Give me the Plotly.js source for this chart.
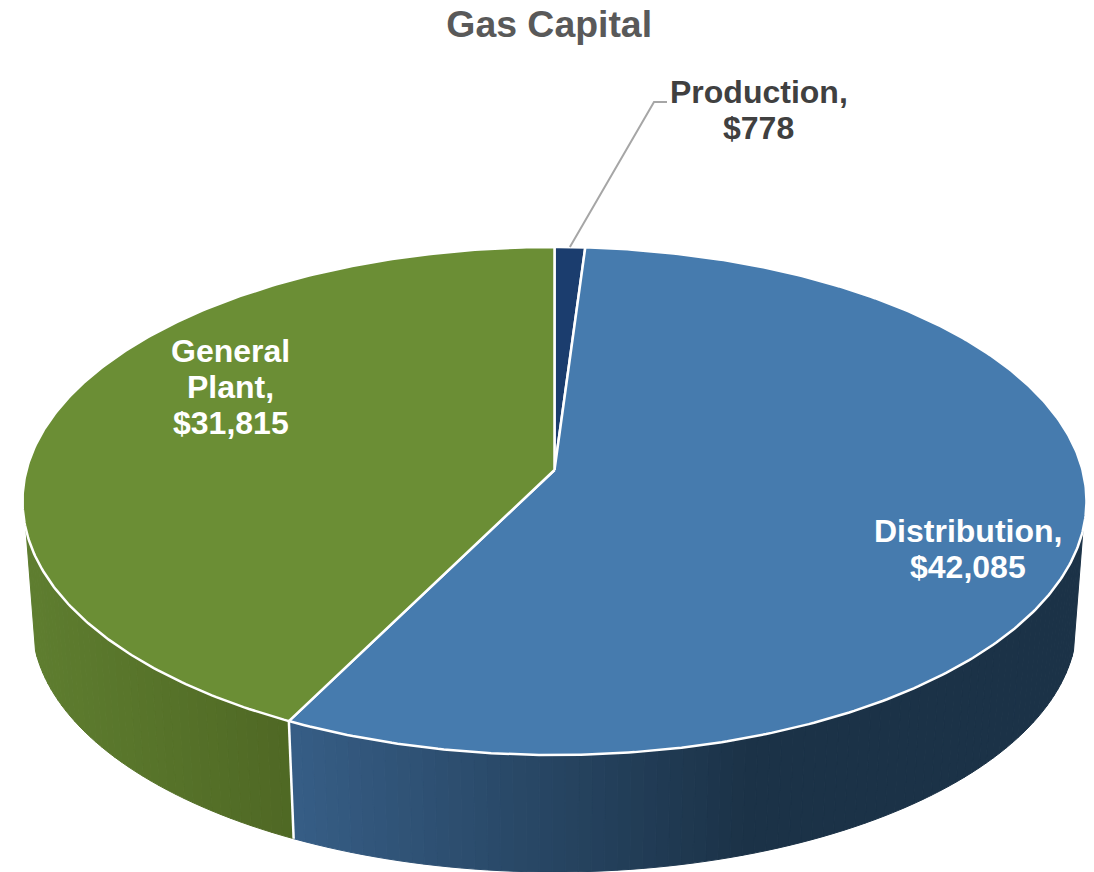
<!DOCTYPE html>
<html>
<head>
<meta charset="utf-8">
<script src="https://cdn.plot.ly/plotly-3.0.1.min.js"></script>
<style>html,body{margin:0;padding:0;background:#fff}#chart{width:1094px;height:872px}</style>
</head>
<body>
<div id="chart"></div>
<script>
// ---- data ----
var chartTitle = "Gas Capital";
var categories = ["Production", "Distribution", "General Plant"];
var values = [778, 42085, 31815];
var labelNameLines = [["Production,"], ["Distribution,"], ["General", "Plant,"]];

// ---- styles ----
var topColors = ["#1b3d6e", "#467bae", "#6b8e35"];
var labelColors = ["#404040", "#ffffff", "#ffffff"];
// wall gradient: [x start, x end, rgb at start, rgb at end] per slice
var wallRamps = [
  [555, 585, [27, 50, 71], [27, 50, 71]],
  [295, 750, [54, 93, 133], [27, 50, 71]],
  [33, 290, [94, 125, 47], [79, 104, 36]]
];
// first-line centre of each label block, and line pitch
var labelAnchors = [[758.5, 92], [967.5, 531], [230.5, 351]];
var linePitch = 36;

// ---- perspective projection of the pie disc onto the page ----
var cx = 554.5, k = 0.122, p = -192.9, q = 470, X = 528;
var wallScale = 0.982, wallDrop = 130.6;
function topPoint(theta) {            // theta clockwise from 12 o'clock
  var u = Math.sin(theta), v = Math.cos(theta), d = 1 + k * v;
  return [cx + X * u / d, (p * v + q) / d];
}
function basePoint(theta) {
  var t = topPoint(theta);
  return [cx + (t[0] - cx) * wallScale, t[1] * wallScale + wallDrop];
}

var total = values.reduce(function (a, b) { return a + b; }, 0);
var bounds = [0];
values.forEach(function (v, i) { bounds.push(bounds[i] + v / total * 2 * Math.PI); });

var traces = [];
function mix(a, b, t) { return Math.round(a + (b - a) * t); }
function rampColor(r, x) {
  var t = Math.max(0, Math.min(1, (x - r[0]) / (r[1] - r[0])));
  return "rgb(" + mix(r[2][0], r[3][0], t) + "," + mix(r[2][1], r[3][1], t) + "," + mix(r[2][2], r[3][2], t) + ")";
}

// visible wall spans the front of the disc
var vEdge = -0.233;
var wallFrom = Math.acos(vEdge), wallTo = 2 * Math.PI - wallFrom;
var stepAngle = 0.022;
values.forEach(function (v, i) {
  var a = Math.max(bounds[i], wallFrom), b = Math.min(bounds[i + 1], wallTo);
  if (b <= a) return;
  var n = Math.ceil((b - a) / stepAngle);
  for (var s = 0; s < n; s++) {
    var t0 = a + (b - a) * s / n, t1 = a + (b - a) * (s + 1) / n;
    var A = topPoint(t0), B = topPoint(t1), C = basePoint(t1), D = basePoint(t0);
    var col = rampColor(wallRamps[i], (A[0] + B[0]) / 2);
    traces.push({
      type: "scatter", mode: "lines", fill: "toself", fillcolor: col,
      x: [A[0], B[0], C[0], D[0], A[0]], y: [A[1], B[1], C[1], D[1], A[1]],
      line: {color: col, width: 1}, hoverinfo: "skip", showlegend: false
    });
  }
});

// white seam on the wall at the General Plant / Distribution boundary
var seamTop = topPoint(bounds[2]), seamBase = basePoint(bounds[2]);
traces.push({
  type: "scatter", mode: "lines",
  x: [seamTop[0], seamBase[0]], y: [seamTop[1], seamBase[1]],
  line: {color: "#ffffff", width: 2.5}, hoverinfo: "skip", showlegend: false
});

// top face of each slice
values.forEach(function (v, i) {
  var xs = [cx], ys = [q];
  var n = Math.max(4, Math.ceil((bounds[i + 1] - bounds[i]) / 0.01));
  for (var s = 0; s <= n; s++) {
    var P = topPoint(bounds[i] + (bounds[i + 1] - bounds[i]) * s / n);
    xs.push(P[0]); ys.push(P[1]);
  }
  xs.push(cx); ys.push(q);
  traces.push({
    type: "scatter", mode: "lines", fill: "toself", fillcolor: topColors[i],
    x: xs, y: ys, line: {color: "#ffffff", width: 2.5},
    name: categories[i], text: "$" + v.toLocaleString("en-US"), hoveron: "fills",
    hoverinfo: "name+text", showlegend: false
  });
});

// leader line for the small slice
var mid = topPoint((bounds[0] + bounds[1]) / 2);
traces.push({
  type: "scatter", mode: "lines",
  x: [mid[0], 654, 667], y: [mid[1], 102, 102],
  line: {color: "#a6a6a6", width: 2}, hoverinfo: "skip", showlegend: false
});

// labels: one annotation per line to keep the tight line pitch
var annotations = [];
values.forEach(function (v, i) {
  var lines = labelNameLines[i].concat(["$" + v.toLocaleString("en-US")]);
  lines.forEach(function (txt, j) {
    annotations.push({
      xref: "x", yref: "y", x: labelAnchors[i][0], y: labelAnchors[i][1] + j * linePitch,
      text: "<b>" + txt + "</b>", showarrow: false, xanchor: "center", yanchor: "middle",
      font: {family: "Liberation Sans, Arial, sans-serif", size: 32, color: labelColors[i]}
    });
  });
});

var hidden = {visible: false, fixedrange: true};
var layout = {
  width: 1094, height: 872,
  margin: {l: 0, r: 0, t: 0, b: 0},
  paper_bgcolor: "#ffffff", plot_bgcolor: "#ffffff",
  showlegend: false,
  title: {
    text: "<b>" + chartTitle + "</b>", x: 0.502, xanchor: "center", xref: "paper",
    y: 0.9725, yanchor: "middle", yref: "paper",
    font: {family: "Liberation Sans, Arial, sans-serif", size: 37.4, color: "#595959"}
  },
  xaxis: Object.assign({range: [0, 1094]}, hidden),
  yaxis: Object.assign({range: [872, 0]}, hidden),
  annotations: annotations
};
Plotly.newPlot("chart", traces, layout, {displayModeBar: false});
</script>
</body>
</html>
